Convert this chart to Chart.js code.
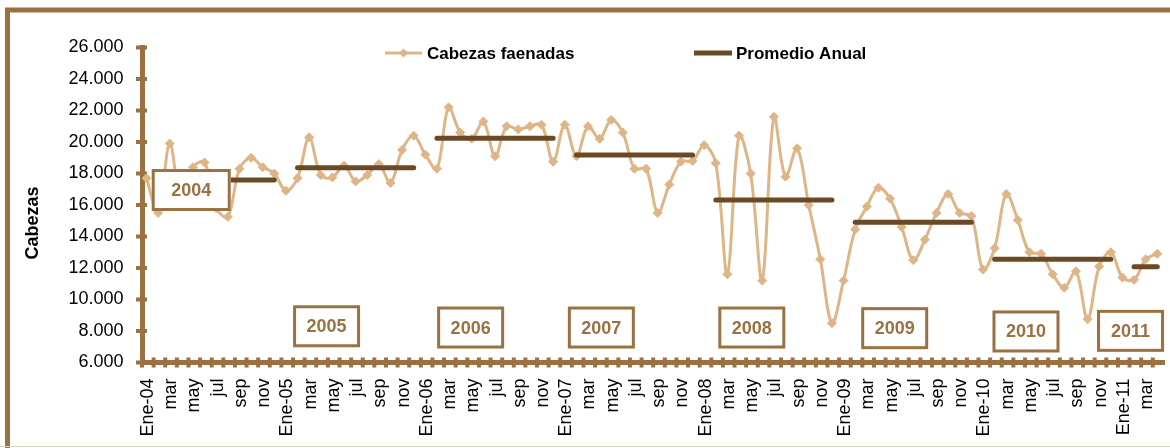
<!DOCTYPE html>
<html>
<head>
<meta charset="utf-8">
<script src="https://cdn.jsdelivr.net/npm/chart.js@4"></script>
<style>
    html, body { margin: 0; padding: 0; background: #fff; }
    #wrap { width: 1170px; height: 448px; position: relative; }
</style>
</head>
<body>
<div id="wrap"><canvas id="chart-faena"></canvas></div>
<script>
const years = ['2004', '2005', '2006', '2007', '2008', '2009', '2010', '2011']
const monthShort = ['Ene', 'feb', 'mar', 'abr', 'may', 'jun', 'jul', 'ago', 'sep', 'oct', 'nov', 'dic']

const cabezas2004 = [17700, 15500, 19900, 16100, 18400, 18700, 15800, 15250, 18300, 19000, 18400, 18000]
const cabezas2005 = [16900, 17700, 20300, 17900, 17750, 18500, 17500, 17900, 18600, 17400, 19500, 20400]
const cabezas2006 = [19200, 18300, 22200, 20600, 20200, 21300, 19100, 21000, 20800, 21000, 21100, 18750]
const cabezas2007 = [21100, 19100, 21000, 20200, 21400, 20600, 18300, 18300, 15500, 17300, 18750, 18800]
const cabezas2008 = [19800, 18650, 11600, 20400, 18000, 11200, 21600, 17800, 19600, 16000, 12550, 8500]
const cabezas2009 = [11200, 14450, 15900, 17100, 16400, 14600, 12500, 13800, 15500, 16700, 15500, 15300]
const cabezas2010 = [11900, 13250, 16700, 15050, 13000, 12900, 11600, 10750, 11800, 8750, 12100, 13000]
const cabezas2011 = [11400, 11250, 12550, 12900]

const promedioAnual = [17590, 18370, 20240, 19180, 16320, 14900, 12550, 12080]

const yMin = 6000
const yMax = 26000
const yStep = 2000

// where the year boxes sit: [month index, value]
const yearBoxAt = [[3.85, 16950], [15.5, 8300], [27.9, 8220], [39.15, 8220], [52.1, 8220], [64.4, 8180], [75.7, 7970], [84.7, 8010]]

const BROWN = '#9a7141'
const TAN = '#deb587'
const DARK = '#6a4a25'
const FONT = 'Arial, "Liberation Sans", sans-serif'

const cabezasPorAnio = [cabezas2004, cabezas2005, cabezas2006, cabezas2007, cabezas2008, cabezas2009, cabezas2010, cabezas2011]

const categories = []
const cabezas = []
const promedio = []

cabezasPorAnio.forEach((serie, y) => {
    serie.forEach((value, m) => {
        const i = categories.length
        categories.push(m === 0 ? `Ene-${years[y].slice(2)}` : monthShort[m])
        cabezas.push({ x: i, y: value })
        promedio.push({ x: i, y: m === 0 ? null : promedioAnual[y] })
    })
})

const formatMiles = (v) => String(v).replace(/\B(?=(\d{3})+(?!\d))/g, '.')

Chart.defaults.font.family = FONT
Chart.defaults.color = '#000'

const decor = {
    id: 'decor',
    beforeDraw(chart) {
        const { ctx } = chart
        ctx.save()
        ctx.strokeStyle = BROWN
        ctx.lineWidth = 5
        ctx.strokeRect(7.5, 10, 1300, 600)
        ctx.strokeStyle = '#d8d1c8'
        ctx.lineWidth = 1
        ctx.beginPath()
        ctx.moveTo(0, 446.5)
        ctx.lineTo(1170, 446.5)
        ctx.stroke()
        ctx.restore()
    },
    beforeDatasetsDraw(chart) {
        const { ctx, chartArea, scales: { x, y } } = chart
        ctx.save()
        ctx.fillStyle = BROWN
        // tick marks crossing the axes
        for (let v = yMin; v <= yMax; v += yStep) {
            const py = y.getPixelForValue(v)
            ctx.fillRect(chartArea.left - 6, py - 2, 11, 4)
        }
        for (let k = 0; x.min + k <= x.max + 0.01; k++) {
            const px = x.getPixelForValue(x.min + k)
            ctx.fillRect(px - 2, chartArea.bottom - 5, 4, 10)
        }
        ctx.restore()
    },
    afterDatasetsDraw(chart) {
        const { ctx, scales: { x, y } } = chart
        ctx.save()
        ctx.textAlign = 'center'
        ctx.textBaseline = 'middle'
        ctx.font = `bold 18px ${FONT}`
        years.forEach((year, i) => {
            const [idx, val] = yearBoxAt[i]
            const cx = x.getPixelForValue(idx)
            const cy = y.getPixelForValue(val)
            const w = i === 0 ? 79 : 67
            const h = 42
            ctx.fillStyle = '#fff'
            ctx.fillRect(cx - w / 2, cy - h / 2, w, h)
            ctx.strokeStyle = BROWN
            ctx.lineWidth = 3
            ctx.strokeRect(cx - w / 2 + 1.5, cy - h / 2 + 1.5, w - 3, h - 3)
            ctx.fillStyle = BROWN
            ctx.fillText(year, cx, cy + 1)
        })
        ctx.restore()
    },
    afterDraw(chart) {
        const { ctx, data: { datasets } } = chart
        ctx.save()
        // y axis title
        ctx.translate(33, 223)
        ctx.rotate(-Math.PI / 2)
        ctx.font = `bold 18px ${FONT}`
        ctx.fillStyle = '#000'
        ctx.textAlign = 'center'
        ctx.textBaseline = 'middle'
        ctx.fillText('Cabezas', 0, 0)
        ctx.restore()

        // legend
        const items = [{ ds: datasets[0], x0: 385, x1: 422, tx: 427 }, { ds: datasets[1], x0: 694, x1: 732, tx: 736 }]
        ctx.save()
        items.forEach(({ ds, x0, x1, tx }) => {
            const ly = 53
            ctx.strokeStyle = ds.borderColor
            ctx.lineWidth = ds.borderWidth
            ctx.beginPath()
            ctx.moveTo(x0, ly)
            ctx.lineTo(x1, ly)
            ctx.stroke()
            if (ds.pointRadius > 0) {
                const r = ds.pointRadius
                const cx = (x0 + x1) / 2
                ctx.fillStyle = ds.pointBackgroundColor
                ctx.beginPath()
                ctx.moveTo(cx - r, ly)
                ctx.lineTo(cx, ly - r)
                ctx.lineTo(cx + r, ly)
                ctx.lineTo(cx, ly + r)
                ctx.closePath()
                ctx.fill()
            }
            ctx.fillStyle = '#000'
            ctx.font = `bold 17px ${FONT}`
            ctx.textAlign = 'left'
            ctx.textBaseline = 'middle'
            ctx.fillText(ds.label, tx, ly + 1)
        })
        ctx.restore()
    }
}

const ctx = document.getElementById('chart-faena').getContext('2d')

const chart = new Chart(ctx, {
    type: 'line',
    data: {
        datasets: [{
            label: 'Cabezas faenadas',
            data: cabezas,
            borderColor: TAN,
            backgroundColor: TAN,
            borderWidth: 3,
            pointStyle: 'rectRot',
            pointRadius: 4.5,
            pointBackgroundColor: TAN,
            pointBorderColor: TAN,
            pointBorderWidth: 1,
            tension: 0.35,
            order: 1
        }, {
            label: 'Promedio Anual',
            data: promedio,
            borderColor: DARK,
            backgroundColor: DARK,
            borderWidth: 5,
            borderCapStyle: 'round',
            pointRadius: 0,
            spanGaps: false,
            order: 0
        }]
    },
    options: {
        responsive: true,
        maintainAspectRatio: false,
        animation: false,
        layout: {
            padding: { top: 47.5, right: 6, left: 0, bottom: 0 }
        },
        plugins: {
            legend: { display: false },
            tooltip: { enabled: false }
        },
        scales: {
            x: {
                type: 'linear',
                min: -0.387,
                max: 87.58,
                afterFit: (scale) => {
                    scale.height = 85.5
                    scale.paddingLeft = 0
                    scale.paddingRight = 0
                },
                grid: { drawOnChartArea: false, drawTicks: false },
                border: { color: BROWN, width: 5 },
                ticks: {
                    stepSize: 1,
                    autoSkip: false,
                    includeBounds: false,
                    minRotation: 90,
                    maxRotation: 90,
                    padding: 16,
                    labelOffset: 1.5,
                    font: { size: 18 },
                    callback: (value) => Number.isInteger(value) && value % 2 === 0 ? categories[value] : ''
                }
            },
            y: {
                min: yMin,
                max: yMax,
                afterFit: (scale) => {
                    scale.width = 142
                    scale.paddingTop = 0
                    scale.paddingBottom = 0
                },
                grid: { drawOnChartArea: false, drawTicks: false },
                border: { color: BROWN, width: 5 },
                ticks: {
                    stepSize: yStep,
                    padding: 18.5,
                    font: { size: 18 },
                    callback: (value) => formatMiles(value)
                }
            }
        }
    },
    plugins: [decor]
})
</script>
</body>
</html>
